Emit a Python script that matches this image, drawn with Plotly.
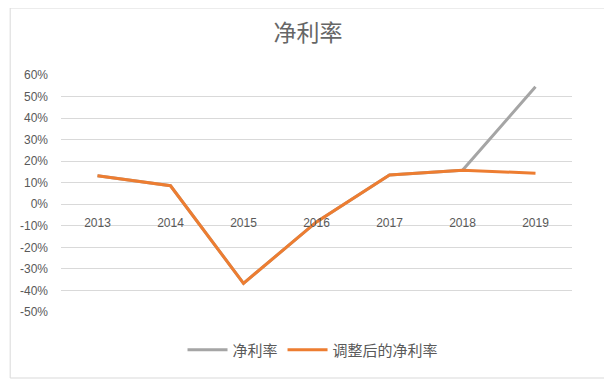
import plotly.graph_objects as go

years = ["2013", "2014", "2015", "2016", "2017", "2018", "2019"]
net_margin = [0.132, 0.086, -0.367, -0.082, 0.136, 0.158, 0.545]
adj_margin = [0.132, 0.086, -0.367, -0.082, 0.136, 0.158, 0.144]
y_ticks = [0.6, 0.5, 0.4, 0.3, 0.2, 0.1, 0, -0.1, -0.2, -0.3, -0.4, -0.5]
y_labels = ["60%", "50%", "40%", "30%", "20%", "10%", "0%", "-10%", "-20%", "-30%", "-40%", "-50%"]

FONT = "Liberation Sans, Noto Sans CJK SC, sans-serif"
CJK = "Noto Sans CJK SC, sans-serif"

W, H = 604, 371
L, R, T, B = 51, 40, 67, 67
PW, PH = W - L - R, H - T - B

fig = go.Figure()
fig.add_trace(go.Scatter(x=years, y=net_margin, mode="lines", name="净利率",
                         line=dict(color="#A5A5A5", width=3)))
fig.add_trace(go.Scatter(x=years, y=adj_margin, mode="lines", name="调整后的净利率",
                         line=dict(color="#ED7D31", width=3)))

y_min, y_max = -0.5, 0.6
fig.update_layout(
    width=W, height=H,
    margin=dict(l=L, r=R, t=T, b=B),
    paper_bgcolor="white", plot_bgcolor="white",
    title=dict(text="净利率", x=(300 - 0) / W, xanchor="center", y=1 - 25 / H, yanchor="middle",
               font=dict(family=CJK, size=23, color="#666666")),
    xaxis=dict(type="category", range=[-0.5, 6.5], showgrid=False, showline=False, ticks="",
               anchor="free", position=(0 - y_min) / (y_max - y_min),
               tickfont=dict(family=FONT, size=12, color="#595959"),
               ticklabelstandoff=10),
    yaxis=dict(range=[y_min, y_max], tickvals=y_ticks, ticktext=y_labels,
               showgrid=True, gridcolor="#D9D9D9", gridwidth=1, zeroline=False,
               showline=False, ticks="", ticklabelstandoff=12,
               tickfont=dict(family=FONT, size=12, color="#595959")),
    legend=dict(orientation="h", x=(304 - L) / PW, xanchor="center", y=-38 / PH, yanchor="middle",
                font=dict(family=CJK, size=15, color="#595959"), itemwidth=40),
    showlegend=True,
)
fig.add_shape(type="rect", xref="paper", yref="paper", x0=-L / PW, x1=1 + (R - 1) / PW,
              y0=-(B - 1) / PH, y1=1 + T / PH, line=dict(color="#D9D9D9", width=1))

fig.write_html("out.html")
